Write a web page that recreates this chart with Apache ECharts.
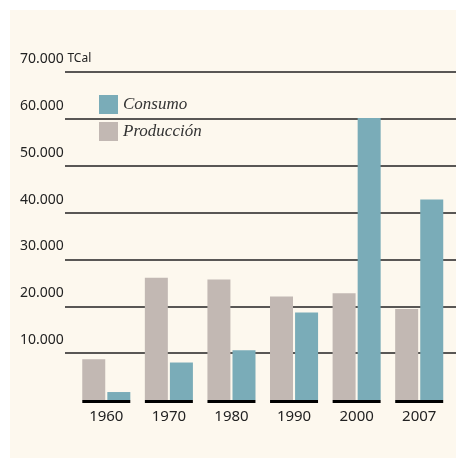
<!DOCTYPE html>
<html>
<head>
<meta charset="utf-8">
<script src="https://cdn.jsdelivr.net/npm/echarts@6/dist/echarts.min.js"></script>
<style>
  html, body { margin: 0; padding: 0; background: #ffffff; }
  #chart { width: 456px; height: 458px; }
</style>
</head>
<body>
<div id="chart"></div>
<script>
// Energy balance, TCal
const years = ['1960', '1970', '1980', '1990', '2000', '2007'];
const produccion = [8700, 26100, 25700, 22100, 22800, 19400];
const consumo = [1700, 8000, 10600, 18700, 60200, 42800];
const yTicks = [0, 10000, 20000, 30000, 40000, 50000, 60000, 70000];

const CREAM = '#fdf8ee';
const TEAL = '#7aacb8';
const TAUPE = '#c2b8b3';
const INK = '#222222';

function fmt(v) {
  return String(v).replace(/\B(?=(\d{3})+(?!\d))/g, '.');
}

const chart = echarts.init(document.getElementById('chart'), null, { renderer: 'canvas' });

const gridTop = 72, gridBottom = 58;

chart.setOption({
  backgroundColor: 'transparent',
  animation: false,
  graphic: [{
    type: 'rect',
    left: 10, top: 10,
    shape: { width: 446, height: 448 },
    style: { fill: CREAM },
    z: -10, silent: true
  }],
  legend: {
    data: ['Consumo', 'Producción'],
    orient: 'vertical',
    left: 99, top: 95, padding: 0,
    itemWidth: 19, itemHeight: 19, itemGap: 8,
    icon: 'rect',
    textStyle: {
      fontFamily: 'Liberation Serif',
      fontStyle: 'italic',
      fontSize: 17,
      color: '#333'
    }
  },
  grid: [
    // grid carrying the horizontal rules and value labels
    { left: 65, right: 0, top: gridTop, bottom: gridBottom },
    // grid carrying the bars
    { left: 75, right: 5.5, top: gridTop, bottom: gridBottom }
  ],
  xAxis: [
    { gridIndex: 0, type: 'value', show: false, min: 0, max: 1 },
    {
      gridIndex: 1, type: 'category', data: years,
      axisLine: { show: false }, axisTick: { show: false },
      axisLabel: {
        margin: 9, color: INK, fontSize: 15, fontFamily: 'Noto Sans'
      }
    }
  ],
  yAxis: [
    {
      gridIndex: 0, type: 'value', min: yTicks[0], max: yTicks[yTicks.length - 1], interval: 10000,
      axisLine: { show: false }, axisTick: { show: false },
      splitLine: { show: true, showMinLine: false, lineStyle: { color: INK, width: 1.5 } },
      axisLabel: {
        align: 'left', margin: 45, verticalAlign: 'middle',
        padding: [0, 0, 26, 0],
        color: INK, fontSize: 14, fontFamily: 'Noto Sans',
        formatter: function (v) {
          if (v === 0) return '';
          if (v === yTicks[yTicks.length - 1]) return '{v|' + fmt(v) + '} {u|TCal}';
          return fmt(v);
        },
        rich: {
          v: { fontSize: 14, color: INK, fontFamily: 'Noto Sans' },
          u: { fontSize: 12, color: INK, fontFamily: 'Noto Sans' }
        }
      }
    },
    {
      gridIndex: 1, type: 'value', min: yTicks[0], max: yTicks[yTicks.length - 1], interval: 10000,
      show: false, splitLine: { show: false }
    }
  ],
  series: [
    {
      name: 'Producción', type: 'bar', xAxisIndex: 1, yAxisIndex: 1,
      data: produccion, barWidth: 23, barGap: '9%',
      itemStyle: { color: TAUPE }, z: 3
    },
    {
      name: 'Consumo', type: 'bar', xAxisIndex: 1, yAxisIndex: 1,
      data: consumo, barWidth: 23, barGap: '9%',
      itemStyle: { color: TEAL }, z: 3
    },
    {
      // black foot under each pair of bars
      name: 'base', type: 'custom', xAxisIndex: 1, yAxisIndex: 1,
      data: years.map(function (y, i) { return [i, 0]; }),
      z: 4, silent: true,
      renderItem: function (params, api) {
        const p = api.coord([api.value(0), 0]);
        const half = 24;
        return {
          type: 'rect',
          shape: { x: p[0] - half, y: p[1], width: half * 2, height: 3 },
          style: { fill: '#000' }
        };
      }
    }
  ]
});
</script>
</body>
</html>
